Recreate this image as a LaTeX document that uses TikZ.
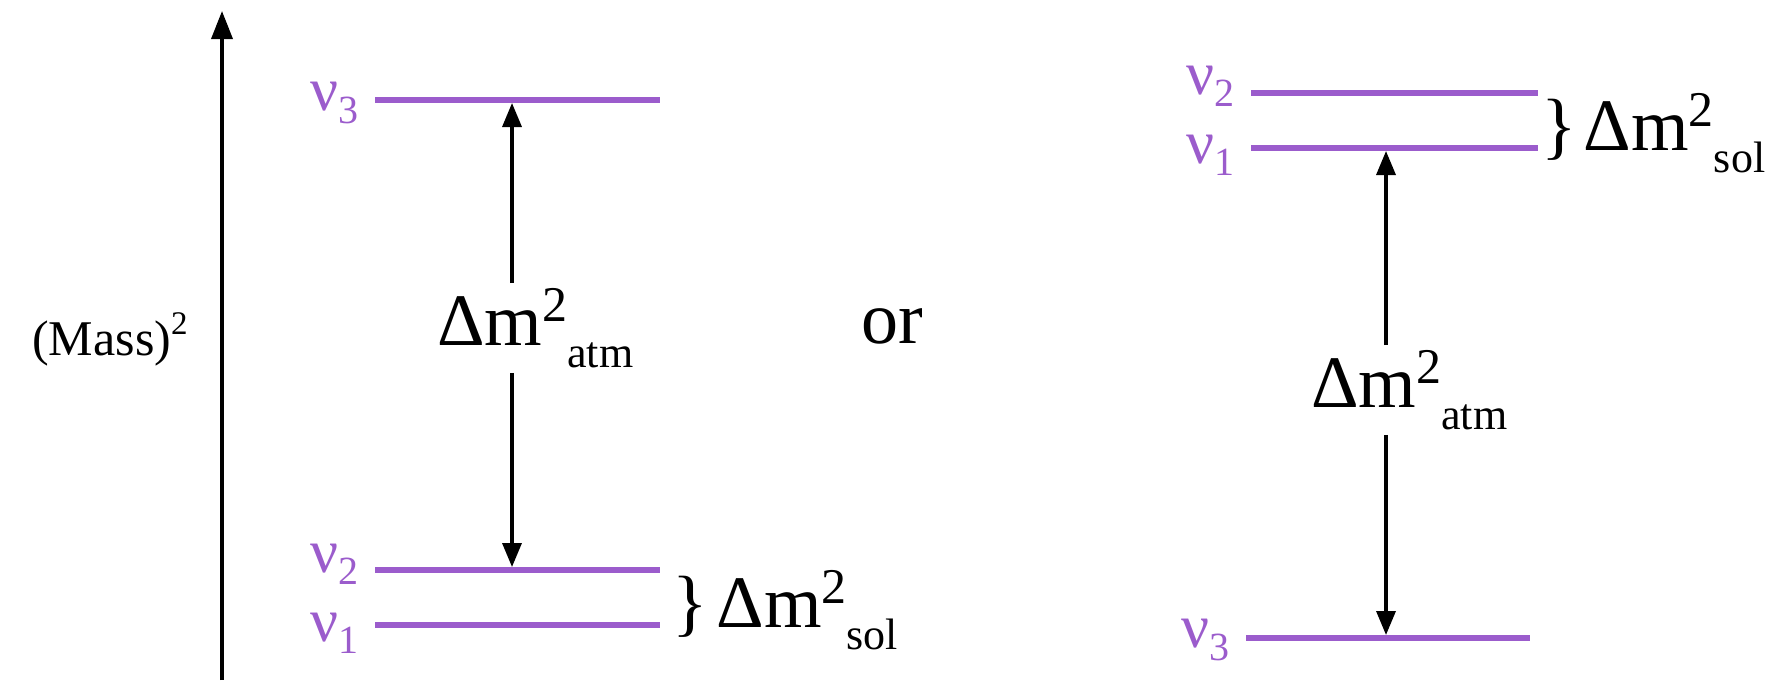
\documentclass[tikz,border=0pt]{standalone}
\usepackage{fontspec}
\setmainfont{Liberation Serif}
\usetikzlibrary{arrows.meta,calc}
\definecolor{lvl}{RGB}{155,92,204}
\newcommand{\dmsq}[1]{Δm\raisebox{0.32em}{\fontsize{50}{50}\selectfont 2}\raisebox{-0.3em}{\fontsize{44}{44}\selectfont #1}}
\newcommand{\nusub}[1]{ν\raisebox{-0.2em}{\fontsize{40}{40}\selectfont #1}}

\begin{document}
\begin{tikzpicture}[x=1pt,y=-1pt,
  masslevel/.style={line width=5.5pt,draw=lvl},
  nulabel/.style={text=lvl,font=\fontsize{62}{62}\selectfont,anchor=east,inner sep=0pt},
  gap/.style={-{Triangle[length=24pt,width=19pt]},line width=3.4pt},
  axis/.style={-{Triangle[length=28pt,width=21pt]},line width=3.6pt},
  biglab/.style={font=\fontsize{74}{74}\selectfont,inner sep=5pt}]
\useasboundingbox (0,0) rectangle (1771,680);
% mass axis
\coordinate (axbot) at (222,680);
\coordinate (axtop) at (222,11);
\draw[axis] (axbot) -- (axtop);
\node[font=\fontsize{50}{50}\selectfont] (mass) at (110,339) {(Mass)\raisebox{0.42em}{\fontsize{33}{33}\selectfont 2}};

% normal ordering
\foreach \n/\y in {3/100,2/570,1/625}{\coordinate (La\n) at (375,\y); \coordinate (Lb\n) at (660,\y);}
\coordinate (atmtopL) at (512,103);
\coordinate (atmbotL) at (512,567);
\node[biglab,anchor=west] (atmL) at (432,328) {\dmsq{atm}};
\draw[gap] (atmL.north -| atmtopL) -- (atmtopL);
\draw[gap] (atmL.south -| atmbotL) -- (atmbotL);
\foreach \n/\dy in {1/8,2/-6,3/3}{
  \draw[masslevel] (La\n) -- (Lb\n);
  \node[nulabel] (nuL\n) at ($(La\n)+(-16,\dy)$) {\nusub{\n}};
}
\node[biglab,anchor=base west,inner sep=0pt] (solL) at (672,627) {\}\hspace{9pt}\dmsq{sol}};

\node[biglab] (or) at (892,326) {or};

% inverted ordering
\foreach \n/\y in {2/93,1/148}{\coordinate (Ra\n) at (1251,\y); \coordinate (Rb\n) at (1538,\y);}
\coordinate (Ra3) at (1246,638); \coordinate (Rb3) at (1530,638);
\coordinate (atmtopR) at (1386,151);
\coordinate (atmbotR) at (1386,635);
\node[biglab,anchor=west] (atmR) at (1306,390) {\dmsq{atm}};
\draw[gap] (atmR.north -| atmtopR) -- (atmtopR);
\draw[gap] (atmR.south -| atmbotR) -- (atmbotR);
\foreach \n/\dy in {1/7,2/-7,3/2}{
  \draw[masslevel] (Ra\n) -- (Rb\n);
  \node[nulabel] (nuR\n) at ($(Ra\n)+(-16,\dy)$) {\nusub{\n}};
}
\node[biglab,anchor=base west,inner sep=0pt] (solR) at (1541,150) {\}\hspace{7pt}\dmsq{sol}};
\end{tikzpicture}
\end{document}
